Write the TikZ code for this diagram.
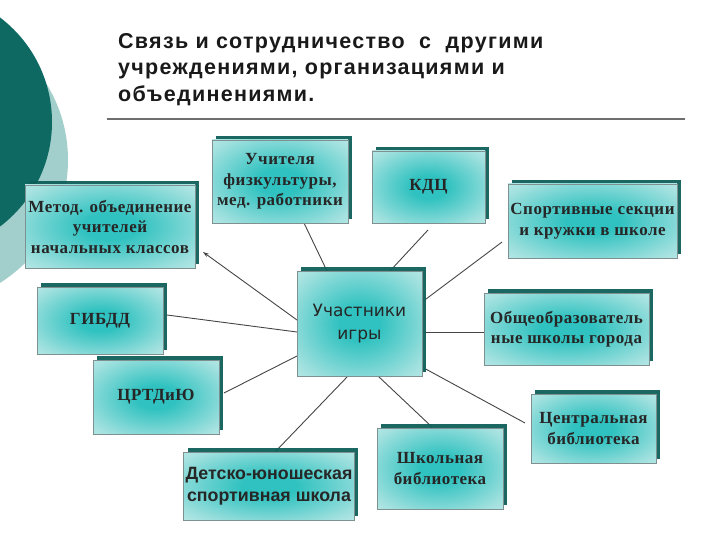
\documentclass[tikz,border=0pt]{standalone}
\usepackage{fontspec}
\usetikzlibrary{shadows,arrows.meta}
\newfontfamily\titlefont{Liberation Sans}[LetterSpace=6]
\newfontfamily\boxserif{Liberation Serif}[LetterSpace=3]
\newfontfamily\boxsans{Liberation Sans}
\newfontfamily\centerfont{DejaVu Sans}
\definecolor{darkteal}{HTML}{0E6963}
\definecolor{lightteal}{HTML}{A2CECB}
\definecolor{shadowc}{HTML}{0F5F5A}
\definecolor{bxin}{HTML}{30C2C0}
\definecolor{bxmid}{HTML}{9FE0DE}
\definecolor{bxout}{HTML}{EEF9F9}
\definecolor{bxborder}{HTML}{7E9090}
\definecolor{linec}{HTML}{454545}
\definecolor{rulec}{HTML}{6E6E6E}
\pgfdeclareradialshading{boxshade}{\pgfpoint{0bp}{0bp}}{color(0bp)=(bxin); color(8bp)=(bxin); color(30bp)=(bxmid); color(50bp)=(bxout); color(75bp)=(white)}
\tikzset{
  boxnode/.style={draw=bxborder, line width=0.8pt, shading=boxshade, inner sep=2pt, align=center,
    drop shadow={shadow xshift=4pt, shadow yshift=4pt, fill=shadowc, opacity=0.95}},
  sbold/.style={font=\boxserif\bfseries\fontsize{17}{20.5}\selectfont, text=black!85},
  abold/.style={font=\boxsans\bfseries\fontsize{17.8}{22}\selectfont, text=black!85},
  conn/.style={draw=linec, line width=0.9pt},
  titletext/.style={anchor=base west, inner sep=0pt, font=\titlefont\bfseries\fontsize{21.5}{26}\selectfont, text=black!90}
}
\begin{document}
\begin{tikzpicture}[x=1pt, y=-1pt]
\useasboundingbox (0,0) rectangle (720,540);
% background circles
\fill[lightteal] (-77,160) circle (145);
\fill[darkteal] (-79,122) circle (131);
% title
\node[titletext] (t1) at (118,49) {Связь и сотрудничество\ \ с\ \ другими};
\node[titletext] (t2) at (118,75) {учреждениями, организациями и};
\node[titletext] (t3) at (118,101.5) {объединениями.};
\draw[rulec, line width=1.8pt] (107,119) -- (685,119);
% connector end points
\coordinate (a1) at (297,320); \coordinate (b1) at (203,252);
\coordinate (a2) at (327,271); \coordinate (b2) at (304,223);
\coordinate (a3) at (390,271); \coordinate (b3) at (428,230);
\coordinate (a4) at (422,302); \coordinate (b4) at (502,242);
\coordinate (a5) at (422,332); \coordinate (b5) at (484,332);
\coordinate (a6) at (422,367); \coordinate (b6) at (525,423);
\coordinate (a7) at (378,376); \coordinate (b7) at (432,427);
\coordinate (a8) at (348,376); \coordinate (b8) at (275,452);
\coordinate (a9) at (297,356); \coordinate (b9) at (224,393);
\coordinate (a10) at (297,332); \coordinate (b10) at (167,315);
\draw[conn, -{Stealth[length=6pt,width=4pt]}] (a1) -- (b1);
\draw[conn] (a2) -- (b2);
\draw[conn] (a3) -- (b3);
\draw[conn] (a4) -- (b4);
\draw[conn] (a5) -- (b5);
\draw[conn] (a6) -- (b6);
\draw[conn] (a7) -- (b7);
\draw[conn] (a8) -- (b8);
\draw[conn] (a9) -- (b9);
\draw[conn] (a10) -- (b10);
% boxes
\node[boxnode, sbold, minimum width=170pt, minimum height=83pt] (metod) at (110,226.5) {Метод. объединение\\учителей\\начальных классов};
\node[boxnode, sbold, minimum width=136pt, minimum height=83pt] (fizra) at (280,181.5) {Учителя\\физкультуры,\\мед. работники};
\node[boxnode, sbold, minimum width=113pt, minimum height=72pt] (kdc) at (428.5,187) {КДЦ};
\node[boxnode, sbold, minimum width=169pt, minimum height=74pt] (sport) at (592.5,221) {Спортивные секции\\и кружки в школе};
\node[boxnode, font=\centerfont\fontsize{17}{23}\selectfont, text=black!85, minimum width=125pt, minimum height=105pt] (center) at (359.5,323.5) {Участники\\игры};
\node[boxnode, sbold, minimum width=126pt, minimum height=67pt] (gibdd) at (100,320.5) {ГИБДД};
\node[boxnode, sbold, minimum width=126pt, minimum height=74pt] (crtd) at (156,397) {ЦРТДиЮ};
\node[boxnode, abold, minimum width=170pt, minimum height=68pt] (dussh) at (269,486) {Детско-юношеская\\спортивная школа};
\node[boxnode, sbold, minimum width=126pt, minimum height=81pt] (shkbib) at (440,468.5) {Школьная\\библиотека};
\node[boxnode, sbold, minimum width=125pt, minimum height=69pt] (cbib) at (593.5,428.5) {Центральная\\библиотека};
\node[boxnode, sbold, minimum width=165pt, minimum height=72pt] (obsh) at (566.5,329) {Общеобразователь\\ные школы города};
\end{tikzpicture}
\end{document}
